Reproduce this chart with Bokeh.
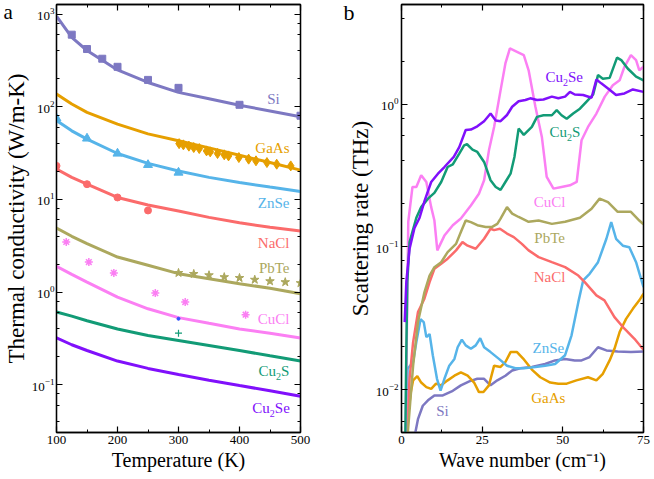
from bokeh.plotting import figure
from bokeh.models import (LogAxis, LinearAxis, Label, CustomJSTickFormatter,
                          LogTicker, SingleIntervalTicker)
from bokeh.layouts import row
from bokeh.embed import file_html
from bokeh.resources import INLINE

FONT = "Liberation Serif"

# ---------------- panel a data ----------------
T_fit = [100, 125, 150, 200, 250, 300, 350, 400, 450, 500]
si_fit = [950, 560, 405, 250, 183, 143, 122, 104, 90, 78]
gaas_fit = [137, 107, 87, 65, 51, 43, 36, 30, 25, 20.7]
znse_fit = [71, 55, 44.7, 31.3, 24.5, 20.3, 17.3, 15.2, 13.6, 12.2]
nacl_fit = [21.2, 17.3, 14.6, 10.5, 8.7, 7.5, 6.4, 5.6, 5.0, 4.56]
pbte_fit = [4.9, 4.0, 3.34, 2.39, 1.95, 1.58, 1.39, 1.23, 1.10, 0.96]
cucl_fit = [1.90, 1.55, 1.28, 0.88, 0.66, 0.53, 0.46, 0.40, 0.36, 0.32]
cu2s_fit = [0.61, 0.55, 0.49, 0.40, 0.34, 0.30, 0.265, 0.234, 0.205, 0.18]
cu2se_fit = [0.32, 0.27, 0.234, 0.18, 0.15, 0.129, 0.112, 0.098, 0.086, 0.075]

si_T = [125, 150, 175, 200, 250, 300, 400, 500]
si_k = [600, 420, 330, 270, 195, 160, 105, 80]
gaas_T = [301, 308, 317, 325, 334, 346, 352, 364, 375, 382, 399, 415, 427, 445, 461, 484]
gaas_k = [40, 38.8, 37.6, 36.3, 35.4, 33.4, 32.6, 31.3, 30.3, 29.5, 28.3, 27.2, 26.1, 25, 24, 23]
znse_T = [100, 150, 200, 250, 300]
znse_k = [75, 45.5, 31.3, 23.6, 19.5]
nacl_T = [100, 150, 200, 250]
nacl_k = [23, 14.6, 10.5, 7.6]
pbte_T = [300, 325, 350, 375, 400, 425, 450, 475, 500]
pbte_k = [1.61, 1.57, 1.52, 1.45, 1.42, 1.36, 1.31, 1.28, 1.25]
cucl_T = [116, 153, 194, 262, 311, 410]
cucl_k = [3.47, 2.11, 1.61, 0.975, 0.78, 0.57]
cu2s_T = [300]
cu2s_k = [0.36]
cu2se_T = [300]
cu2se_k = [0.515]

# ---------------- panel b data ----------------
cu2se_wn = [1.0, 1.5, 2.5, 4, 5.6, 7.2, 9.2, 11.3, 13.3, 16.2, 17.9, 19.9, 21.5, 23.5, 25.6, 27.6,
            29.2, 30.7, 32.7, 34.3, 36.3, 38.4, 39.9, 42, 44, 46.6, 48.6, 50.7, 52.2, 53.7, 56.3,
            58.9, 60.4, 61.9, 64, 66.5, 69.1, 71.7, 75]
cu2se_rate = [0.0297, 0.057, 0.097, 0.135, 0.16, 0.212, 0.285, 0.326, 0.363, 0.427, 0.50, 0.66,
              0.664, 0.70, 0.76, 0.86, 0.77, 0.76, 0.84, 0.96, 1.05, 1.07, 1.10, 1.07, 1.08, 1.13,
              1.10, 1.13, 1.22, 1.17, 1.16, 1.11, 1.49, 1.40, 1.29, 1.16, 1.19, 1.27, 1.22]

cu2s_wn = [1.2, 1.5, 1.8, 2.5, 4.6, 6.1, 8.2, 10.2, 12.3, 14.3, 15.9, 17.9, 19.4, 20.3, 22, 23.5,
           25.6, 27.6, 29.2, 30.7, 32.2, 33.8, 35, 36.3, 37.9, 40.4, 42, 44, 46.6, 48.1, 49.6,
           51.2, 53.2, 55.3, 57.8, 59.4, 60.9, 62.4, 64.5, 66.8, 68.1, 70.1, 72.7, 75]
cu2s_rate = [0.005, 0.019, 0.057, 0.108, 0.16, 0.19, 0.218, 0.239, 0.285, 0.363, 0.379, 0.451,
             0.515, 0.524, 0.48, 0.463, 0.394, 0.293, 0.263, 0.251, 0.285, 0.326, 0.427, 0.675,
             0.61, 0.693, 0.815, 0.837, 0.837, 0.908, 0.837, 0.79, 0.86, 0.93, 1.07, 1.17, 1.6,
             1.51, 1.53, 2.12, 2.04, 1.78, 1.56, 1.47]

cucl_wn = [1.3, 1.7, 2.1, 3.4, 4.6, 6.1, 7.7, 9.2, 10.2, 11.1, 13.3, 15.9, 18.4, 21.5, 24, 25.6,
           27.1, 28.7, 30.7, 32.2, 33.6, 35.8, 37.9, 39.4, 41.5, 43.5, 45, 47.1, 49.6, 52.2, 54.3,
           55.8, 57.8, 60.4, 63, 65.5, 67.6, 69.1, 71.1, 72.7, 73.7, 75]
cucl_rate = [0.0045, 0.03, 0.15, 0.263, 0.263, 0.318, 0.285, 0.19, 0.153, 0.0945, 0.12, 0.142,
             0.158, 0.195, 0.236, 0.293, 0.475, 0.693, 1.25, 1.93, 2.46, 2.33, 2.21, 1.73, 0.96,
             0.59, 0.31, 0.256, 0.263, 0.27, 0.285, 0.559, 0.693, 0.86, 1.13, 1.36, 1.47, 1.83,
             2.21, 2.04, 1.73, 1.83]

pbte_wn = [1.8, 3.6, 5.1, 7.1, 8.7, 10.2, 12.3, 14.3, 16.9, 18.4, 19.9, 21.5, 23.5, 26.1, 28.1,
           29.7, 30.7, 32.7, 34.3, 36.3, 39.4, 42.5, 46.6, 50.7, 55.3, 58.9, 61.4, 64, 67, 71.1,
           73.7, 75]
pbte_rate = [0.0045, 0.0147, 0.0297, 0.048, 0.063, 0.072, 0.078, 0.092, 0.105, 0.127, 0.153,
             0.149, 0.142, 0.138, 0.138, 0.145, 0.158, 0.19, 0.171, 0.162, 0.15, 0.153, 0.145,
             0.15, 0.16, 0.185, 0.218, 0.206, 0.176, 0.176, 0.153, 0.144]

nacl_wn = [1.6, 2.5, 3.6, 5.1, 7.1, 8.7, 10.2, 12.3, 14.3, 16.9, 18.9, 20.5, 23, 25.6, 27.6, 28.7,
           30.5, 32.7, 34.8, 37.3, 39.4, 42.5, 46.6, 50.7, 54.8, 56.8, 60.4, 62.9, 66, 69.1, 72.2, 75]
nacl_rate = [0.0045, 0.012, 0.0215, 0.0349, 0.0433, 0.0566, 0.0703, 0.0762, 0.0826, 0.0945, 0.108,
             0.102, 0.097, 0.114, 0.134, 0.131, 0.134, 0.124, 0.117, 0.105, 0.0945, 0.0848,
             0.0781, 0.0721, 0.063, 0.0566, 0.0457, 0.0422, 0.0322, 0.0267, 0.0227, 0.019]

znse_wn = [1.5, 1.9, 3.6, 4.6, 5.9, 6.9, 7.7, 8.7, 9.7, 11.0, 12.1, 13.3, 14.8, 16.4, 17.4, 18.7,
           19.9, 21.5, 23, 24.4, 25.6, 27.6, 30.2, 32.7, 35.3, 37.9, 41.5, 44.5, 47.6, 50.7, 52.7,
           54.8, 56.3, 58.3, 60.9, 63.5, 65, 66.5, 68.6, 70.6, 72.7, 75]
znse_rate = [0.0045, 0.014, 0.0156, 0.0215, 0.0311, 0.0297, 0.0233, 0.0245, 0.0174, 0.0119,
             0.00984, 0.0119, 0.0147, 0.0164, 0.0198, 0.0224, 0.0204, 0.0193, 0.0204, 0.0229,
             0.0198, 0.0183, 0.0164, 0.0147, 0.0141, 0.0141, 0.0144, 0.0147, 0.0151, 0.0174,
             0.024, 0.041, 0.0582, 0.0648, 0.0781, 0.114, 0.149, 0.114, 0.102, 0.0995, 0.0781,
             0.0522]

gaas_wn = [1.6, 2.0, 2.9, 3.6, 4.9, 6.1, 7.7, 9.2, 10.7, 12.3, 14.3, 16.4, 18.4, 20.5, 22.5, 24,
           25.4, 27.1, 28.7, 30.7, 32.2, 33.8, 35.8, 37.7, 40.4, 43, 46.1, 48.6, 51.2, 54.2, 57.8,
           60.4, 62.4, 64.5, 66, 67.6, 69.6, 71.7, 73.7, 75]
gaas_rate = [0.0045, 0.0066, 0.0096, 0.0116, 0.0124, 0.0112, 0.0104, 0.0101, 0.011, 0.0107,
             0.0116, 0.0125, 0.0132, 0.0125, 0.0112, 0.0096, 0.0096, 0.0107, 0.0147, 0.0144,
             0.0156, 0.0183, 0.0183, 0.0165, 0.0138, 0.0122, 0.0112, 0.011, 0.011, 0.0116,
             0.0122, 0.0116, 0.0129, 0.016, 0.0193, 0.0253, 0.0313, 0.0368, 0.0422, 0.047]

si_wn = [3.9, 5.1, 6.6, 8.2, 10.2, 12.8, 15.9, 18.4, 21, 23.5, 25.6, 27.6, 29.7, 32.2, 34.3, 36.8,
         40.4, 44.5, 47.6, 50.7, 53.7, 55.8, 58.3, 60.9, 63.5, 67, 71.1, 75]
si_rate = [0.0045, 0.0062, 0.0077, 0.0084, 0.0091, 0.0091, 0.0098, 0.0107, 0.0114, 0.0119,
           0.0119, 0.0107, 0.0116, 0.0125, 0.0136, 0.0141, 0.0144, 0.0151, 0.016, 0.0164,
           0.016, 0.016, 0.0169, 0.0198, 0.0188, 0.0185, 0.0183, 0.0185]

C = {
    "Si": "#7d78c2", "GaAs": "#e69f00", "ZnSe": "#56b4e9", "NaCl": "#fb6b6b",
    "PbTe": "#aca85e", "CuCl": "#fb7ff3", "Cu2S": "#129b76", "Cu2Se": "#8010fb",
}


def style_axis(ax, labels=True):
    ax.axis_line_color = "black"
    ax.axis_line_width = 1.3
    ax.major_tick_line_color = "black"
    ax.minor_tick_line_color = "black"
    ax.major_tick_line_width = 1.2
    ax.minor_tick_line_width = 1.0
    ax.major_tick_in = 6
    ax.major_tick_out = 0
    ax.minor_tick_in = 3
    ax.minor_tick_out = 0
    ax.major_label_text_font = FONT
    ax.major_label_text_font_size = "13px"
    ax.major_label_text_color = "black"
    ax.major_label_standoff = 3
    ax.axis_label_text_font = FONT
    ax.axis_label_text_font_style = "normal"
    ax.axis_label_text_color = "black"
    if not labels:
        ax.formatter = CustomJSTickFormatter(code="return ''")
        ax.major_label_standoff = 0


def make_fig(width, xr, yr, bl, br):
    p = figure(width=width, height=479, x_range=xr, y_range=yr, y_axis_type="log",
               output_backend="svg", toolbar_location=None,
               min_border_left=bl, min_border_right=br, min_border_top=4, min_border_bottom=47)
    p.grid.visible = False
    p.outline_line_color = "black"
    p.outline_line_width = 1.3
    p.background_fill_color = "white"
    p.border_fill_color = "white"
    return p


def add_label(p, x, y, txt, color, size="15px", align="right", xo=0, yo=0):
    p.add_layout(Label(x=x, y=y, text=txt, text_font=FONT, text_font_size=size,
                       text_color=color, text_align=align, text_baseline="middle",
                       x_offset=xo, y_offset=yo))


def add_sub_label(p, x, y, b, color):
    # "Cu" + subscript "2" + rest
    add_label(p, x, y, "Cu", color, align="left")
    add_label(p, x, y, "2", color, size="10px", align="left", xo=17.5, yo=-5)
    add_label(p, x, y, b, color, align="left", xo=22.5)


def panel_letter(p, txt, x, y, size):
    kw = dict(text=txt, text_font=FONT, text_font_size=size, text_color="black",
              text_baseline="middle", text_align="left")
    try:
        lab = Label(x=x, y=y, x_units="canvas", y_units="canvas", **kw)
    except Exception:
        lab = Label(x=x, y=y, x_units="screen", y_units="screen", **kw)
    # placed in a side panel so that it is not clipped to the plotting frame
    p.add_layout(lab, "right")


# ---------------- panel a ----------------
pa = make_fig(340, (100, 500), (0.0305, 1270), 55, 40)
pa.xaxis.ticker = SingleIntervalTicker(interval=100, num_minor_ticks=2)
pa.yaxis.ticker = LogTicker(desired_num_ticks=6)
for ax in pa.xaxis + pa.yaxis:
    style_axis(ax)
pa.yaxis.major_label_standoff = 2
pa.xaxis.axis_label = "Temperature (K)"
pa.xaxis.axis_label_text_font_size = "20px"
pa.yaxis.axis_label = "Thermal conductivity (W/m-K)"
pa.yaxis.axis_label_text_font_size = "23px"
pa.yaxis.axis_label_standoff = 0
pa.xaxis.axis_label_standoff = 2

ta = LinearAxis(ticker=SingleIntervalTicker(interval=100, num_minor_ticks=2))
style_axis(ta, labels=False)
pa.add_layout(ta, "above")
ra = LogAxis(ticker=LogTicker(desired_num_ticks=6))
style_axis(ra, labels=False)
pa.add_layout(ra, "right")

fits = [("Si", si_fit), ("GaAs", gaas_fit), ("ZnSe", znse_fit), ("NaCl", nacl_fit),
        ("PbTe", pbte_fit), ("CuCl", cucl_fit), ("Cu2S", cu2s_fit), ("Cu2Se", cu2se_fit)]
for name, vals in fits:
    pa.line(T_fit, vals, line_color=C[name], line_width=3)

pa.scatter(si_T, si_k, marker="square", size=7, color=C["Si"])
pa.scatter(gaas_T, gaas_k, marker="diamond", size=10, color=C["GaAs"])
pa.scatter(znse_T, znse_k, marker="triangle", size=9, color=C["ZnSe"])
pa.scatter(nacl_T, nacl_k, marker="circle", size=7, color=C["NaCl"])
pa.scatter(pbte_T, pbte_k, marker="star", size=9, color=C["PbTe"])
pa.scatter(cucl_T, cucl_k, marker="asterisk", size=8, line_color=C["CuCl"], line_width=1.5)
pa.scatter(cu2s_T, cu2s_k, marker="cross", size=7, line_color=C["Cu2S"], line_width=1.2)
pa.scatter(cu2se_T, cu2se_k, marker="circle", size=3, color="#3050ff")

add_label(pa, 466, 122, "Si", C["Si"])
add_label(pa, 482, 36.3, "GaAs", C["GaAs"])
add_label(pa, 482, 9.2, "ZnSe", C["ZnSe"])
add_label(pa, 482, 3.41, "NaCl", C["NaCl"])
add_label(pa, 482, 1.83, "PbTe", C["PbTe"])
add_label(pa, 482, 0.507, "CuCl", C["CuCl"])
add_sub_label(pa, 431, 0.14, "S", C["Cu2S"])
add_sub_label(pa, 421, 0.056, "Se", C["Cu2Se"])

panel_letter(pa, "a", 3, 11, "21px")

# ---------------- panel b ----------------
pb = make_fig(314, (0, 75), (0.005, 5), 61, 8)
pb.xaxis.ticker = SingleIntervalTicker(interval=25, num_minor_ticks=2)
pb.yaxis.ticker = LogTicker(desired_num_ticks=4)
for ax in pb.xaxis + pb.yaxis:
    style_axis(ax)
pb.xaxis.axis_label = "Wave number (cm\u207b\u00b9)"
pb.xaxis.axis_label_text_font_size = "20px"
pb.yaxis.axis_label = "Scattering rate (THz)"
pb.yaxis.axis_label_text_font_size = "23px"
pb.yaxis.axis_label_standoff = 0
pb.xaxis.axis_label_standoff = 2

tb = LinearAxis(ticker=SingleIntervalTicker(interval=25, num_minor_ticks=2))
style_axis(tb, labels=False)
pb.add_layout(tb, "above")
rb = LogAxis(ticker=LogTicker(desired_num_ticks=4))
style_axis(rb, labels=False)
pb.add_layout(rb, "right")

series_b = [("Si", si_wn, si_rate), ("GaAs", gaas_wn, gaas_rate), ("ZnSe", znse_wn, znse_rate),
            ("NaCl", nacl_wn, nacl_rate), ("PbTe", pbte_wn, pbte_rate),
            ("CuCl", cucl_wn, cucl_rate), ("Cu2S", cu2s_wn, cu2s_rate),
            ("Cu2Se", cu2se_wn, cu2se_rate)]
for name, xs, ys in series_b:
    pb.line(xs, ys, line_color=C[name], line_width=2.5)

add_sub_label(pb, 44.6, 1.546, "Se", C["Cu2Se"])
add_sub_label(pb, 45.9, 0.636, "S", C["Cu2S"])
add_label(pb, 45.9, 0.205, "CuCl", C["CuCl"], align="center")
add_label(pb, 45.9, 0.1148, "PbTe", C["PbTe"], align="center")
add_label(pb, 45.9, 0.0611, "NaCl", C["NaCl"], align="center")
add_label(pb, 45.5, 0.0197, "ZnSe", C["ZnSe"], align="center")
add_label(pb, 45.5, 0.00879, "GaAs", C["GaAs"], align="center")
add_label(pb, 12.7, 0.00713, "Si", C["Si"], align="center")

panel_letter(pb, "b", 3, 12, "22px")

layout = row(pa, pb)
open("out.html", "w").write(file_html(layout, INLINE))
